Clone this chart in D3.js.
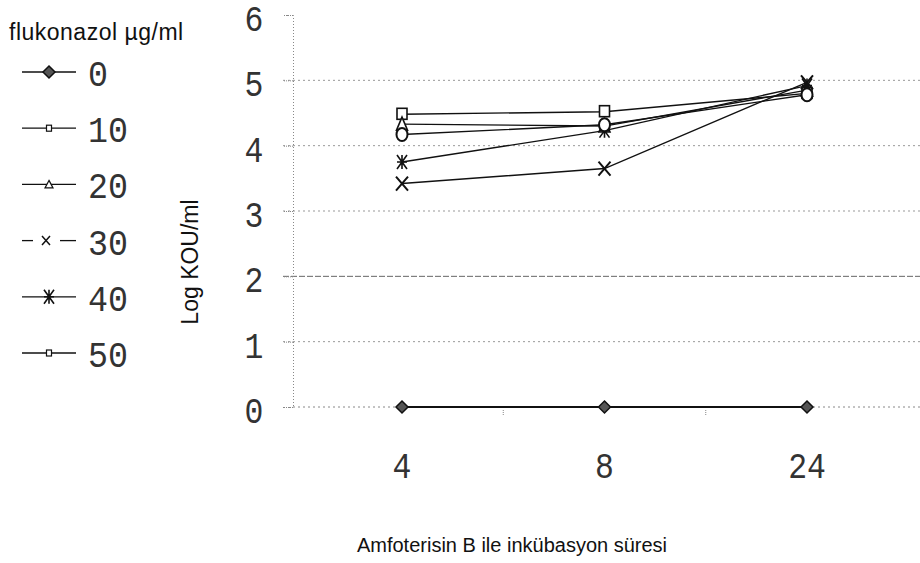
<!DOCTYPE html>
<html>
<head>
<meta charset="utf-8">
<script src="https://cdn.jsdelivr.net/npm/d3@7"></script>
<style>
  body { margin: 0; background: #fff; }
  svg { display: block; }
</style>
</head>
<body>
<div id="chart"></div>
<script>
// data
const times = ["4", "8", "24"]
const yTicks = [0, 1, 2, 3, 4, 5, 6]
const doses = ["0", "10", "20", "30", "40", "50"]
const s0 = [0, 0, 0]
const s10 = [4.48, 4.52, 4.80]
const s20 = [4.33, 4.30, 4.85]
const s30 = [3.42, 3.65, 4.97]
const s40 = [3.75, 4.23, 4.92]
const s50 = [4.17, 4.32, 4.78]
const seriesValues = [s0, s10, s20, s30, s40, s50]
const chartMarks = ["diamond", "square", "triangle", "x", "asterisk", "circle"]
const legendMarks = ["diamond", "smallsquare", "smalltriangle", "xtext", "asterisk", "smallsquare"]

const width = 920, height = 563
const monoFont = "'Liberation Mono', 'DejaVu Sans Mono', monospace"
const sansFont = "'Liberation Sans', Arial, sans-serif"

const svg = d3.select("#chart").append("svg")
    .attr("width", width)
    .attr("height", height)

const xScale = d3.scalePoint()
    .domain(times)
    .range([402, 807])
const yScale = d3.scaleLinear()
    .domain([0, 6])
    .range([407, 15])

// narrow, tall typewriter digits
function monoText(g, x, y, txt, sx) {
    return g.append("text")
        .attr("transform", `translate(${x},${y}) scale(${sx},1)`)
        .attr("font-family", monoFont)
        .attr("font-size", 37)
        .attr("fill", "#333")
        .text(txt)
}

// grid lines
svg.append("g")
    .selectAll("line")
    .data(yTicks.filter(d => d > 0 && d < 6))
    .join("line")
    .attr("x1", 283).attr("x2", width)
    .attr("y1", d => yScale(d)).attr("y2", d => yScale(d))
    .attr("stroke", d => d === 2 ? "#666" : "#999")
    .attr("stroke-width", 1)
    .attr("stroke-dasharray", d => d === 2 ? "6,2" : "2,3")

// zero baseline dotted
svg.append("line")
    .attr("x1", 293).attr("x2", width)
    .attr("y1", yScale(0)).attr("y2", yScale(0))
    .attr("stroke", "#888").attr("stroke-dasharray", "2,3")

// y axis
const yAxis = d3.axisLeft(yScale)
    .tickValues(yTicks)
    .tickSize(10)
    .tickFormat("")
const gy = svg.append("g")
    .attr("transform", "translate(293,0)")
    .call(yAxis)
gy.select(".domain").attr("stroke", "#888").attr("stroke-dasharray", "1,2")
gy.selectAll(".tick line").attr("stroke", "#888").attr("stroke-dasharray", "1,1")
const yLabels = svg.append("g").attr("text-anchor", "middle")
yTicks.forEach(d => monoText(yLabels, 254, yScale(d) + 16, d3.format("d")(d), 0.85))

// x tick labels and small minor marks
const xLabels = svg.append("g").attr("text-anchor", "middle")
times.forEach(t => monoText(xLabels, xScale(t), 478, t, 0.85))
svg.append("g")
    .selectAll("line")
    .data([0, 1])
    .join("line")
    .attr("x1", i => (xScale(times[i]) + xScale(times[i + 1])) / 2)
    .attr("x2", i => (xScale(times[i]) + xScale(times[i + 1])) / 2)
    .attr("y1", yScale(0) + 3).attr("y2", yScale(0) + 9)
    .attr("stroke", "#888").attr("stroke-dasharray", "1,1")

// series lines
const line = d3.line()
    .x((d, i) => xScale(times[i]))
    .y(d => yScale(d))

svg.append("g")
    .selectAll("path")
    .data(seriesValues)
    .join("path")
    .attr("d", line)
    .attr("fill", "none")
    .attr("stroke", "#111")
    .attr("stroke-width", (d, i) => i === 0 ? 2 : 1.4)

function drawMark(g, kind, x, y) {
    const k = g.append("g").attr("transform", `translate(${x},${y})`)
    if (kind === "diamond") {
        k.append("path").attr("d", "M0,-6L6,0L0,6L-6,0Z")
            .attr("fill", "#555").attr("stroke", "#111").attr("stroke-width", 1.5)
    } else if (kind === "square") {
        k.append("rect").attr("x", -5).attr("y", -6).attr("width", 10).attr("height", 11)
            .attr("fill", "#fff").attr("stroke", "#111").attr("stroke-width", 1.6)
    } else if (kind === "smallsquare") {
        k.append("rect").attr("x", -2.5).attr("y", -3).attr("width", 5).attr("height", 6)
            .attr("fill", "#fff").attr("stroke", "#111").attr("stroke-width", 1.2)
    } else if (kind === "triangle") {
        k.append("path").attr("d", "M0,-7L5.5,6L-5.5,6Z")
            .attr("fill", "#fff").attr("stroke", "#111").attr("stroke-width", 1.6)
    } else if (kind === "smalltriangle") {
        k.append("path").attr("d", "M0,-4L4,3.5L-4,3.5Z")
            .attr("fill", "#fff").attr("stroke", "#111").attr("stroke-width", 1.2)
    } else if (kind === "circle") {
        k.append("ellipse").attr("rx", 5.5).attr("ry", 6.5)
            .attr("fill", "#fff").attr("stroke", "#111").attr("stroke-width", 2)
    } else if (kind === "x") {
        k.append("path").attr("d", "M-6,-7L6,7M6,-7L-6,7")
            .attr("stroke", "#111").attr("stroke-width", 2)
    } else if (kind === "xtext") {
        k.append("path").attr("d", "M-4,-4.5L4,4.5M4,-4.5L-4,4.5")
            .attr("stroke", "#111").attr("stroke-width", 1.5)
    } else if (kind === "asterisk") {
        k.append("path").attr("d", "M-5,-7L5,7M5,-7L-5,7M0,-7L0,7M-5,0L5,0")
            .attr("stroke", "#111").attr("stroke-width", 1.6)
    }
}

// markers
const marks = svg.append("g")
seriesValues.forEach((vals, si) => {
    vals.forEach((v, i) => drawMark(marks, chartMarks[si], xScale(times[i]), yScale(v)))
})

// legend
const legend = svg.append("g")
legend.append("text")
    .attr("x", 9).attr("y", 40)
    .attr("font-family", sansFont)
    .attr("font-size", 23)
    .attr("letter-spacing", 0.5)
    .attr("fill", "#111")
    .text("flukonazol µg/ml")
const legendY = d3.scalePoint().domain(doses).range([72, 353])
doses.forEach((d, i) => {
    const y = legendY(d)
    const row = legend.append("g")
    // the 30 row has a short left dash and a gap around its small x
    const segs = i === 3 ? [[22, 33], [60, 76]] : [[22, 76]]
    segs.forEach(s => row.append("line")
        .attr("x1", s[0]).attr("x2", s[1])
        .attr("y1", y).attr("y2", y)
        .attr("stroke", "#111").attr("stroke-width", i === 0 ? 1.6 : 1.3))
    drawMark(row, legendMarks[i], i === 3 ? 46 : 49, y)
    monoText(row, 88, y + 14, d, 0.9)
})

// axis titles
svg.append("text")
    .attr("transform", "translate(198,262) rotate(-90)")
    .attr("text-anchor", "middle")
    .attr("font-family", sansFont)
    .attr("font-size", 23)
    .attr("fill", "#111")
    .text("Log KOU/ml")
svg.append("text")
    .attr("x", 512).attr("y", 552)
    .attr("text-anchor", "middle")
    .attr("font-family", sansFont)
    .attr("font-size", 20)
    .attr("fill", "#111")
    .text("Amfoterisin B ile inkübasyon süresi")
</script>
</body>
</html>
